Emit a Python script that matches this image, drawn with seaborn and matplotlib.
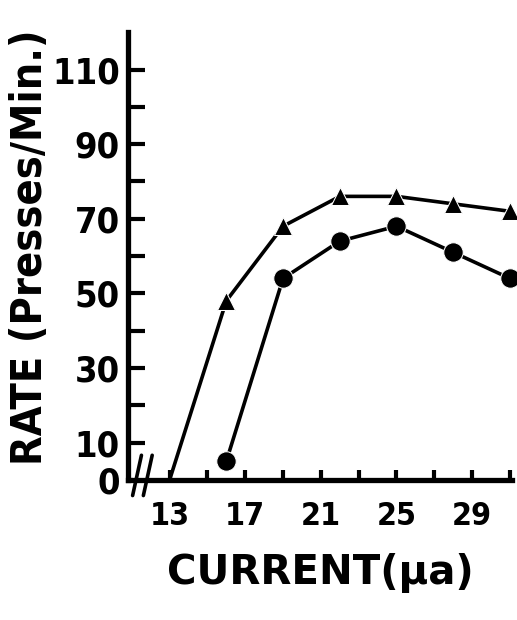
import matplotlib
matplotlib.use("Agg")
import matplotlib.pyplot as plt
import seaborn as sns
import pandas as pd
from matplotlib.ticker import FixedLocator

# ---- data ----
current_tri = [13, 16, 19, 22, 25, 28, 31]
rate_tri = [0, 48, 68, 76, 76, 74, 72]
current_dot = [16, 19, 22, 25, 28, 31]
rate_dot = [5, 54, 64, 68, 61, 54]
y_tick_values = [0, 10, 30, 50, 70, 90, 110]
y_minor_values = [20, 40, 60, 80, 100]
x_tick_values = [13, 17, 21, 25, 29]
x_minor_values = [15, 19, 23, 27, 31]
x_label = "CURRENT(\u03bca)"
y_label = "RATE (Presses/Min.)"

sns.set_style("white")
plt.rcParams["font.family"] = ["DejaVu Sans"]
plt.rcParams["text.color"] = "black"
plt.rcParams["axes.labelcolor"] = "black"

fig = plt.figure(figsize=(5.17, 6.2), dpi=100)
ax = fig.add_axes([0.2476, 0.226, 0.7424, 0.722])

df_tri = pd.DataFrame({"current": current_tri, "rate": rate_tri})
df_dot = pd.DataFrame({"current": current_dot, "rate": rate_dot})

sns.lineplot(data=df_tri, x="current", y="rate", ax=ax, color="black",
             linewidth=2.6, marker="^", markersize=13,
             markevery=list(range(1, len(current_tri))), clip_on=False)
sns.lineplot(data=df_dot, x="current", y="rate", ax=ax, color="black",
             linewidth=2.6, marker="o", markersize=14, clip_on=False)

ax.set_xlim(10.8, 31.1)
ax.set_ylim(0, 120)

for side in ["top", "right"]:
    ax.spines[side].set_visible(False)
for side in ["left", "bottom"]:
    ax.spines[side].set_linewidth(3.8)
    ax.spines[side].set_color("black")

ax.yaxis.set_major_locator(FixedLocator(y_tick_values))
ax.yaxis.set_minor_locator(FixedLocator(y_minor_values))
ax.set_yticklabels([str(v) for v in y_tick_values], fontsize=26,
                   fontweight="bold", fontstretch="condensed", color="black")
ax.xaxis.set_major_locator(FixedLocator(x_tick_values))
ax.xaxis.set_minor_locator(FixedLocator(x_minor_values))
ax.set_xticklabels([str(v) for v in x_tick_values], fontsize=23,
                   fontweight="bold", fontstretch="condensed", color="black")

ax.tick_params(axis="y", which="both", direction="in", length=12, width=3,
               pad=6, left=True, colors="black")
ax.tick_params(axis="x", which="both", direction="in", length=7, width=3,
               pad=15, bottom=True, colors="black")

ax.set_xlabel(x_label, fontsize=29, fontweight="bold", color="black")
ax.xaxis.set_label_coords(0.5, -0.163)
ax.set_ylabel(y_label, fontsize=31, fontweight="bold", fontstretch="condensed",
              color="black")
ax.yaxis.set_label_coords(-0.2, 0.52)

# axis break marks near the origin
trans = ax.transAxes
ax.plot([0.012, 0.052], [0.0, 0.0], color="white", linewidth=6,
        transform=trans, clip_on=False, solid_capstyle="butt")
for dx in (0.0, 0.028):
    ax.plot([0.012 + dx, 0.035 + dx], [-0.035, 0.055], color="black",
            linewidth=2.6, transform=trans, clip_on=False)

fig.savefig("out.png", dpi=100, facecolor="white")
